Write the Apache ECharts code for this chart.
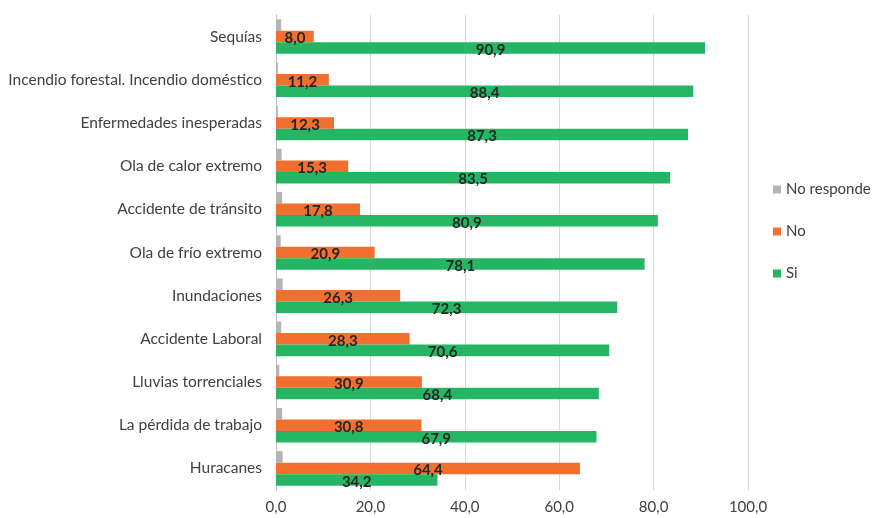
<!DOCTYPE html>
<html><head><meta charset="utf-8">
<script src="https://cdn.jsdelivr.net/npm/echarts@6/dist/echarts.min.js"></script>
<style>html,body{margin:0;padding:0;background:#fff}#c{width:872px;height:518px}</style>
</head><body><div id="c"></div>
<script>
const categories = ["Sequías","Incendio forestal. Incendio doméstico","Enfermedades inesperadas","Ola de calor extremo","Accidente de tránsito","Ola de frío extremo","Inundaciones","Accidente Laboral","Lluvias torrenciales","La pérdida de trabajo","Huracanes"];
const noResponde = [1.1,0.4,0.4,1.2,1.3,1.0,1.4,1.1,0.7,1.3,1.4];
const no = [8.0,11.2,12.3,15.3,17.8,20.9,26.3,28.3,30.9,30.8,64.4];
const si = [90.9,88.4,87.3,83.5,80.9,78.1,72.3,70.6,68.4,67.9,34.2];
const xTicks = [0,20,40,60,80,100];

const fmt = v => v.toFixed(1).replace('.', ',');
const font = 'Lato, sans-serif';
const lbl = {show:true, position:'inside', offset:[0,2], color:'#262626', fontWeight:'bold', fontSize:15, fontFamily:font, formatter:p=>fmt(p.value)};
const chart = echarts.init(document.getElementById('c'));
chart.setOption({
  animation:false,
  grid:{left:276, right:124, top:15, bottom:28},
  legend:{orient:'vertical', left:768, top:177, itemWidth:8, itemHeight:8, itemGap:27,
    icon:'rect', textStyle:{fontSize:15, color:'#404040', fontFamily:font},
    data:['No responde','No','Si']},
  xAxis:{type:'value', min:0, max:100, interval:20,
    axisLabel:{formatter:v=>fmt(v), fontSize:15, color:'#404040', fontFamily:font, margin:10},
    splitLine:{lineStyle:{color:'#d9d9d9'}}, axisLine:{show:false}, axisTick:{show:false}},
  yAxis:{type:'category', data:categories, inverse:true,
    axisLabel:{fontSize:15.5, color:'#404040', fontFamily:font, margin:14},
    axisLine:{lineStyle:{color:'#bfbfbf'}}, axisTick:{show:false}},
  series:[
    {name:'No responde', type:'bar', data:noResponde, itemStyle:{color:'#b4b4b8'}, barGap:'0%', barCategoryGap:'20%'},
    {name:'No', type:'bar', data:no, itemStyle:{color:'#f36f2f'}, label:lbl},
    {name:'Si', type:'bar', data:si, itemStyle:{color:'#26b563'}, label:lbl}
  ]
});
</script></body></html>
